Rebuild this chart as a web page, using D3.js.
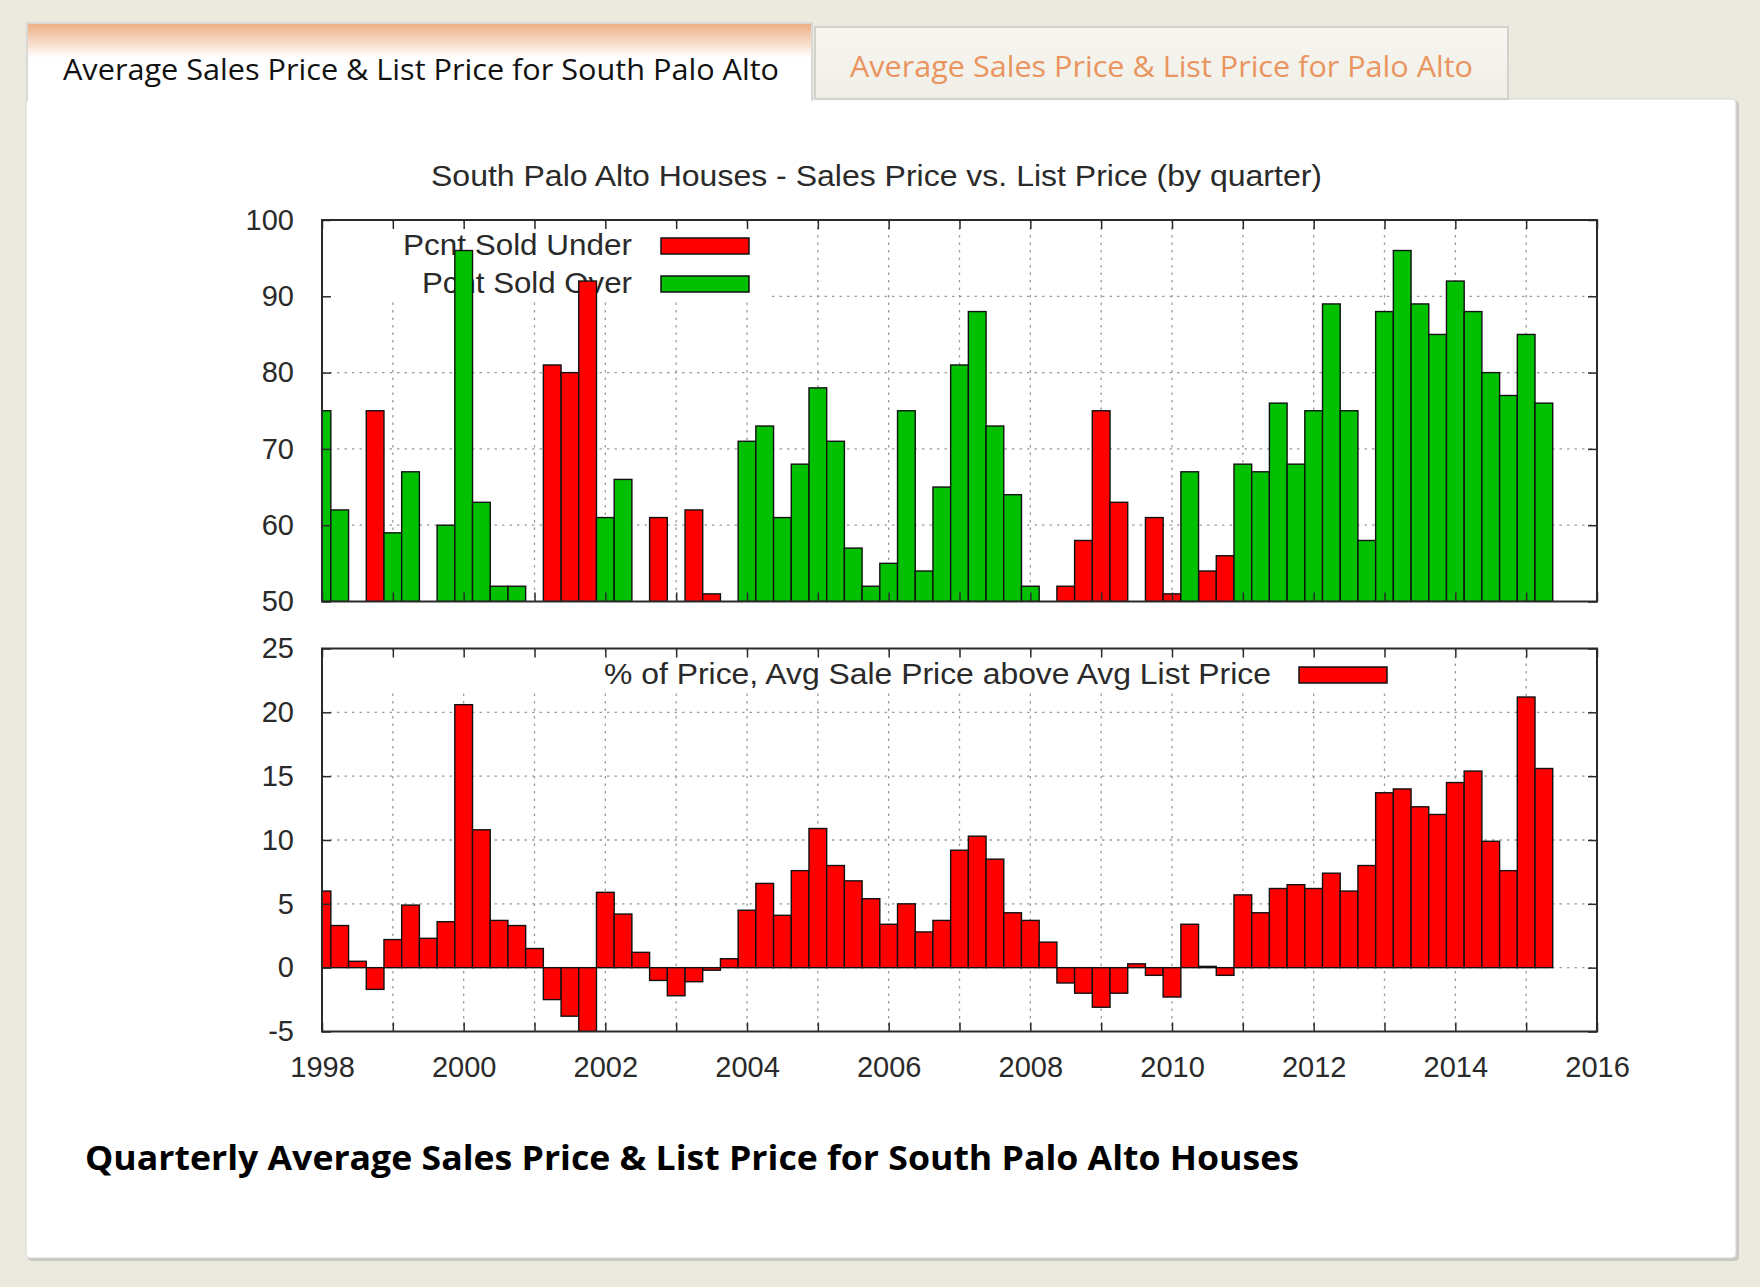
<!DOCTYPE html>
<html>
<head>
<meta charset="utf-8">
<script src="https://cdn.jsdelivr.net/npm/d3@7"></script>
<style>
    html, body { margin: 0; padding: 0; background: #eceade; }
    svg { display: block; }
</style>
</head>
<body>
<div id="chart"></div>
<script>
// Quarter start (decimal year), one per bar
const quarters = [
    1998.00, 1998.25, 1998.50, 1998.75, 1999.00, 1999.25, 1999.50, 1999.75,
    2000.00, 2000.25, 2000.50, 2000.75, 2001.00, 2001.25, 2001.50, 2001.75,
    2002.00, 2002.25, 2002.50, 2002.75, 2003.00, 2003.25, 2003.50, 2003.75,
    2004.00, 2004.25, 2004.50, 2004.75, 2005.00, 2005.25, 2005.50, 2005.75,
    2006.00, 2006.25, 2006.50, 2006.75, 2007.00, 2007.25, 2007.50, 2007.75,
    2008.00, 2008.25, 2008.50, 2008.75, 2009.00, 2009.25, 2009.50, 2009.75,
    2010.00, 2010.25, 2010.50, 2010.75, 2011.00, 2011.25, 2011.50, 2011.75,
    2012.00, 2012.25, 2012.50, 2012.75, 2013.00, 2013.25, 2013.50, 2013.75,
    2014.00, 2014.25, 2014.50, 2014.75, 2015.00, 2015.25
];

// Pcnt Sold Under (null = below the 50 floor, not visible)
const pcntSoldUnder = [
    null, null, null, 75,   null, null, null, null,
    null, null, null, null, null, 81,   80,   92,
    null, null, null, 61,   null, 62,   51,   null,
    null, null, null, null, null, null, null, null,
    null, null, null, null, null, null, null, null,
    null, null, 52,   58,   75,   63,   null, 61,
    51,   null, 54,   56,   null, null, null, null,
    null, null, null, null, null, null, null, null,
    null, null, null, null, null, null
];

// Pcnt Sold Over
const pcntSoldOver = [
    75,   62,   null, null, 59,   67,   null, 60,
    96,   63,   52,   52,   null, null, null, null,
    61,   66,   null, null, null, null, null, null,
    71,   73,   61,   68,   78,   71,   57,   52,
    55,   75,   54,   65,   81,   88,   73,   64,
    52,   null, null, null, null, null, null, null,
    null, 67,   null, null, 68,   67,   76,   68,
    75,   89,   75,   58,   88,   96,   89,   85,
    92,   88,   80,   77,   85,   76
];

// % of Price, Avg Sale Price above Avg List Price
const pctAboveList = [
    6.0,  3.3,  0.5, -1.7,  2.2,  4.9,  2.3,  3.6,
    20.6, 10.8, 3.7,  3.3,  1.5, -2.5, -3.8, -5.0,
    5.9,  4.2,  1.2, -1.0, -2.2, -1.1, -0.2,  0.7,
    4.5,  6.6,  4.1,  7.6,  10.9, 8.0,  6.8,  5.4,
    3.4,  5.0,  2.8,  3.7,  9.2,  10.3, 8.5,  4.3,
    3.7,  2.0, -1.2, -2.0, -3.1, -2.0,  0.3, -0.6,
    -2.3, 3.4,  0.1, -0.6,  5.7,  4.3,  6.2,  6.5,
    6.2,  7.4,  6.0,  8.0,  13.7, 14.0, 12.6, 12.0,
    14.5, 15.4, 9.9,  7.6,  21.2, 15.6
];

const yearTicks = [1998, 1999, 2000, 2001, 2002, 2003, 2004, 2005, 2006, 2007,
                   2008, 2009, 2010, 2011, 2012, 2013, 2014, 2015, 2016];
const yearLabels = [1998, 2000, 2002, 2004, 2006, 2008, 2010, 2012, 2014, 2016];
const topTicks = [50, 60, 70, 80, 90, 100];
const bottomTicks = [-5, 0, 5, 10, 15, 20, 25];

const RED = "#ff0000";
const GREEN = "#00c000";
const INK = "#2a2a2a";
const FONT = "'Liberation Sans', Arial, sans-serif";

const W = 1760, H = 1287;
const svg = d3.select("#chart").append("svg")
    .attr("width", W)
    .attr("height", H);

const defs = svg.append("defs");

// ---- page chrome: background, tabs, panel ----
svg.append("rect").attr("width", W).attr("height", H).attr("fill", "#eceade");

const tabGrad = defs.append("linearGradient").attr("id", "tabGrad")
    .attr("x1", 0).attr("y1", 0).attr("x2", 0).attr("y2", 1);
tabGrad.append("stop").attr("offset", "0%").attr("stop-color", "#eeae82");
tabGrad.append("stop").attr("offset", "45%").attr("stop-color", "#ffffff");
tabGrad.append("stop").attr("offset", "100%").attr("stop-color", "#ffffff");

const offGrad = defs.append("linearGradient").attr("id", "offGrad")
    .attr("x1", 0).attr("y1", 0).attr("x2", 0).attr("y2", 1);
offGrad.append("stop").attr("offset", "0%").attr("stop-color", "#f7f6f1");
offGrad.append("stop").attr("offset", "100%").attr("stop-color", "#efeee6");

// panel shadow + panel
svg.append("rect")
    .attr("x", 28).attr("y", 101).attr("width", 1711).attr("height", 1160)
    .attr("rx", 4).attr("fill", "#c9c9c4");
svg.append("rect")
    .attr("x", 26).attr("y", 99).attr("width", 1710).attr("height", 1159)
    .attr("rx", 4).attr("fill", "#ffffff").attr("stroke", "#d6d6d2").attr("stroke-width", 1);

// inactive tab
svg.append("rect")
    .attr("x", 815).attr("y", 27).attr("width", 693).attr("height", 72)
    .attr("fill", "url(#offGrad)").attr("stroke", "#d2d2cd").attr("stroke-width", 2);
svg.append("text")
    .attr("x", 850).attr("y", 77)
    .attr("font-family", "'Open Sans', 'Noto Sans', sans-serif")
    .attr("font-size", "30px")
    .attr("fill", "#ea9460")
    .attr("textLength", 623).attr("lengthAdjust", "spacingAndGlyphs")
    .text("Average Sales Price & List Price for Palo Alto");

// active tab
svg.append("path")
    .attr("d", "M27,101 L27,23 L812,23 L812,101")
    .attr("fill", "url(#tabGrad)").attr("stroke", "#d8d8d4").attr("stroke-width", 2);
svg.append("rect")
    .attr("x", 28).attr("y", 96).attr("width", 783).attr("height", 8).attr("fill", "#ffffff");
svg.append("text")
    .attr("x", 63).attr("y", 80)
    .attr("font-family", "'Open Sans', 'Noto Sans', sans-serif")
    .attr("font-size", "30px")
    .attr("fill", "#111")
    .attr("textLength", 716).attr("lengthAdjust", "spacingAndGlyphs")
    .text("Average Sales Price & List Price for South Palo Alto");

// caption under the chart
svg.append("text")
    .attr("x", 85).attr("y", 1170)
    .attr("font-family", "'Open Sans', 'Noto Sans', sans-serif")
    .attr("font-size", "34px")
    .attr("font-weight", "bold")
    .attr("fill", "#000")
    .attr("textLength", 1214).attr("lengthAdjust", "spacingAndGlyphs")
    .text("Quarterly Average Sales Price & List Price for South Palo Alto Houses");

// ---- gnuplot-style chart ----
const plotLeft = 322, plotRight = 1597;
const xScale = d3.scaleLinear().domain([1998, 2016]).range([plotLeft, plotRight]);
const barHalf = 0.125;

// chart title
svg.append("text")
    .attr("x", 431).attr("y", 186)
    .attr("font-family", FONT).attr("font-size", "29px").attr("fill", INK)
    .attr("textLength", 891).attr("lengthAdjust", "spacingAndGlyphs")
    .text("South Palo Alto Houses - Sales Price vs. List Price (by quarter)");

function drawPanel(opts) {
    const { id, top, bottom, domain, ticks, base, showXLabels, key, series } = opts;
    const yScale = d3.scaleLinear().domain(domain).range([bottom, top]);
    const g = svg.append("g").attr("class", id);

    defs.append("clipPath").attr("id", "clip-" + id)
        .append("rect")
        .attr("x", plotLeft).attr("y", top)
        .attr("width", plotRight - plotLeft).attr("height", bottom - top);

    // dotted grid
    const grid = g.append("g").attr("class", "grid");
    grid.selectAll("line.h")
        .data(ticks.slice(1, -1))
        .join("line")
        .attr("x1", plotLeft).attr("x2", plotRight)
        .attr("y1", d => yScale(d)).attr("y2", d => yScale(d));
    grid.selectAll("line.v")
        .data(yearTicks.slice(1, -1))
        .join("line")
        .attr("x1", d => xScale(d)).attr("x2", d => xScale(d))
        .attr("y1", top).attr("y2", bottom);
    grid.selectAll("line")
        .attr("stroke", "#9a9a9a")
        .attr("stroke-width", 1.3)
        .attr("stroke-dasharray", "2.5,5");

    // key area is cleared, then text + sample boxes
    g.append("rect")
        .attr("x", plotLeft + 2).attr("y", top + 2)
        .attr("width", key.clearRight - plotLeft - 2)
        .attr("height", key.clearBottom - top - 2)
        .attr("fill", "#fff");

    key.entries.forEach((entry, i) => {
        g.append("text")
            .attr("x", key.textRight)
            .attr("y", key.firstBaseline + i * key.step)
            .attr("text-anchor", "end")
            .attr("font-family", FONT).attr("font-size", "29px").attr("fill", INK)
            .attr("textLength", entry.len).attr("lengthAdjust", "spacingAndGlyphs")
            .text(entry.label);
        g.append("rect")
            .attr("x", key.boxLeft)
            .attr("y", key.firstBaseline + i * key.step - 17)
            .attr("width", 88).attr("height", 16)
            .attr("fill", entry.color)
            .attr("stroke", "#111").attr("stroke-width", 1.5);
    });

    // bars
    const bars = g.append("g").attr("clip-path", `url(#clip-${id})`);
    series.forEach(s => {
        const pts = quarters.map((q, i) => ({ q, v: s.values[i] })).filter(d => d.v !== null);
        bars.selectAll(null)
            .data(pts)
            .join("rect")
            .attr("x", d => xScale(d.q - barHalf))
            .attr("width", d => xScale(d.q + barHalf) - xScale(d.q - barHalf))
            .attr("y", d => yScale(Math.max(d.v, base)))
            .attr("height", d => Math.abs(yScale(d.v) - yScale(base)))
            .attr("fill", s.color)
            .attr("stroke", "#111")
            .attr("stroke-width", 1.4);
    });

    // ticks on all four sides, pointing inward
    const tickLen = 9;
    g.append("g")
        .attr("transform", `translate(0,${bottom})`)
        .call(d3.axisBottom(xScale).tickValues(yearTicks).tickSize(-tickLen)
            .tickPadding(25)
            .tickFormat(d => (showXLabels && yearLabels.includes(d)) ? String(d) : ""))
        .call(a => a.select(".domain").remove());
    g.append("g")
        .attr("transform", `translate(0,${top})`)
        .call(d3.axisTop(xScale).tickValues(yearTicks).tickSize(-tickLen).tickFormat(""))
        .call(a => a.select(".domain").remove());
    g.append("g")
        .attr("transform", `translate(${plotLeft},0)`)
        .call(d3.axisLeft(yScale).tickValues(ticks).tickSize(-tickLen).tickPadding(28)
            .tickFormat(d => String(d)))   // plain hyphen for "-5", like gnuplot
        .call(a => a.select(".domain").remove());
    g.append("g")
        .attr("transform", `translate(${plotRight},0)`)
        .call(d3.axisRight(yScale).tickValues(ticks).tickSize(-tickLen).tickFormat(""))
        .call(a => a.select(".domain").remove());

    g.selectAll(".tick line").attr("stroke", INK).attr("stroke-width", 1.5);
    g.selectAll(".tick text")
        .attr("font-family", FONT).attr("font-size", "29px").attr("fill", INK);

    // border
    g.append("rect")
        .attr("x", plotLeft).attr("y", top)
        .attr("width", plotRight - plotLeft).attr("height", bottom - top)
        .attr("fill", "none").attr("stroke", INK).attr("stroke-width", 2);
}

// upper panel: percent of homes sold under / over list
drawPanel({
    id: "sold",
    top: 220, bottom: 601.5,
    domain: [50, 100], ticks: topTicks, base: 50,
    showXLabels: false,
    key: {
        clearRight: 767, clearBottom: 301,
        textRight: 632, boxLeft: 661, firstBaseline: 255, step: 38,
        entries: [
            { label: "Pcnt Sold Under", color: RED, len: 229 },
            { label: "Pcnt Sold Over", color: GREEN, len: 210 }
        ]
    },
    series: [
        { values: pcntSoldUnder, color: RED },
        { values: pcntSoldOver, color: GREEN }
    ]
});

// lower panel: sale price premium over list price
drawPanel({
    id: "premium",
    top: 648.5, bottom: 1031.5,
    domain: [-5, 25], ticks: bottomTicks, base: 0,
    showXLabels: true,
    key: {
        clearRight: 1410, clearBottom: 693,
        textRight: 1271, boxLeft: 1299, firstBaseline: 684, step: 38,
        entries: [
            { label: "% of Price, Avg Sale Price above Avg List Price", color: RED, len: 667 }
        ]
    },
    series: [
        { values: pctAboveList, color: RED }
    ]
});
</script>
</body>
</html>
